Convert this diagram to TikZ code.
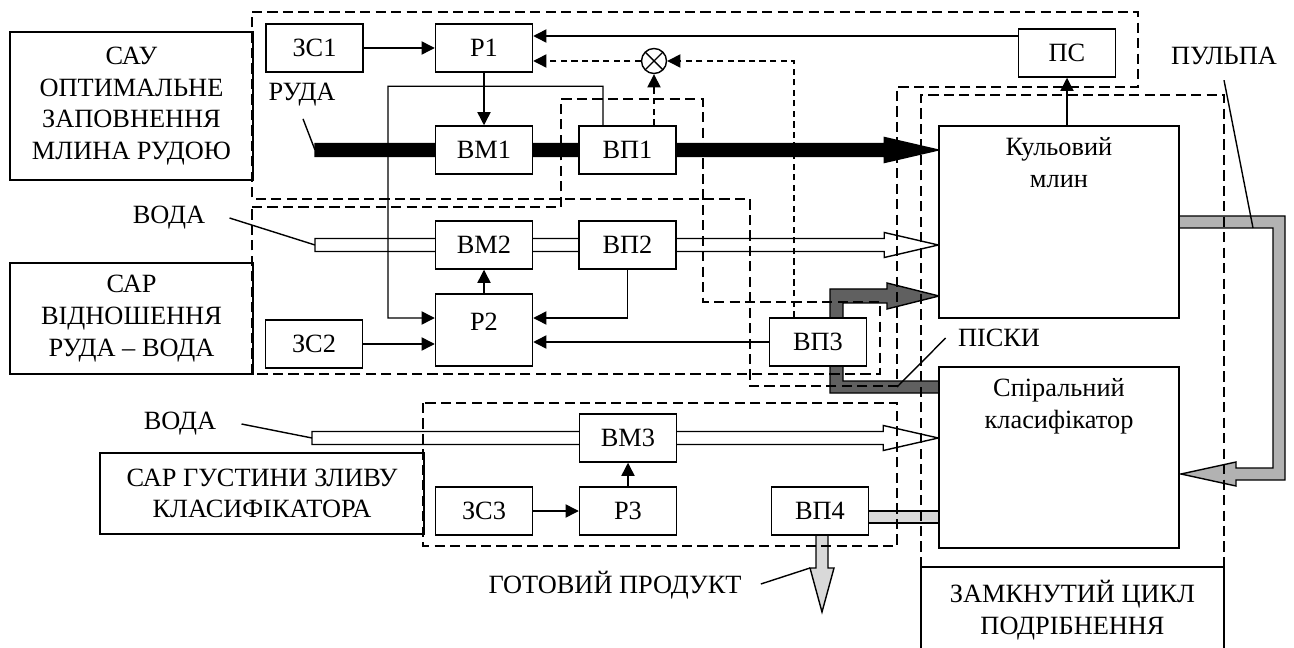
\documentclass[tikz,border=0pt]{standalone}
\usepackage{fontspec}
\setmainfont{Liberation Serif}
\usetikzlibrary{arrows.meta, calc, backgrounds}
\definecolor{sandgray}{RGB}{96, 96, 96}
\definecolor{pulpgray}{RGB}{178, 178, 178}
\definecolor{prodgray}{RGB}{217, 217, 217}

\tikzset{
  blk/.style={draw, fill=white, line width=0.85pt, minimum width=1.94cm, minimum height=0.96cm, inner sep=0pt},
  lab/.style={draw, fill=white, line width=0.85pt, align=center, inner sep=0pt},
  tag/.style={inner sep=0pt},
  grp/.style={line width=0.8pt, dash pattern=on 5.8pt off 3pt},
  fb/.style={line width=0.8pt, dash pattern=on 3.5pt off 2.5pt},
  sig/.style={line width=0.8pt, -{Triangle[length=7.5pt, width=7.5pt]}},
  pipe/.style={line width=0.8pt, line join=miter},
  mixer/.style={circle, draw, fill=white, line width=0.8pt, minimum size=0.5cm, inner sep=0pt,
    path picture={\draw[line width=0.8pt]
      (path picture bounding box.north west) -- (path picture bounding box.south east)
      (path picture bounding box.north east) -- (path picture bounding box.south west);}},
}

% straight flow to the right: style, start, tip, head length
\newcommand{\flowright}[4]{%
  \filldraw[pipe, #1] ($(#2)+(0,-6.5)$) -- ($(#3)+(-#4,-6.5)$) -- ($(#3)+(-#4,-12.5)$) -- (#3)
    -- ($(#3)+(-#4,12.5)$) -- ($(#3)+(-#4,6.5)$) -- ($(#2)+(0,6.5)$) -- cycle;}

\begin{document}
\begin{tikzpicture}[x=0.02cm, y=-0.02cm, font=\fontsize{15}{18}\selectfont]
  \useasboundingbox (0,0) rectangle (1294,648);

  % captions of the loops
  \node[lab, minimum width=4.86cm, minimum height=2.96cm] (sau) at (131.5,106) {САУ\\ОПТИМАЛЬНЕ\\ЗАПОВНЕННЯ\\МЛИНА РУДОЮ};
  \node[lab, minimum width=4.86cm, minimum height=2.22cm] (sarrv) at (131.5,318.5) {САР\\ВІДНОШЕННЯ\\РУДА – ВОДА};
  \node[lab, minimum width=6.48cm, minimum height=1.62cm] (sargz) at (262,493.5) {САР ГУСТИНИ ЗЛИВУ\\КЛАСИФІКАТОРА};
  \node[lab, minimum width=6.06cm, minimum height=1.72cm] (cyc) at (1072.5,610) {ЗАМКНУТИЙ ЦИКЛ\\ПОДРІБНЕННЯ};

  % blocks
  \node[blk] (zs1) at (314.5,48) {ЗС1};
  \node[blk] (r1) at (484,48) {Р1};
  \node[blk] (vm1) at (484,150) {ВМ1};
  \node[blk] (vp1) at (627.5,150) {ВП1};
  \node[blk] (ps) at (1067,53) {ПС};
  \node[mixer] (mix) at (654,61) {};

  \node[blk] (vm2) at (484,245) {ВМ2};
  \node[blk] (vp2) at (627.5,245) {ВП2};
  \node[blk, minimum height=1.44cm, text depth=0.32cm] (r2) at (484,330) {Р2};
  \node[blk] (zs2) at (314,344) {ЗС2};
  \node[blk] (vp3) at (818,342) {ВП3};

  \node[blk] (vm3) at (628,438) {ВМ3};
  \node[blk] (r3) at (628,511) {Р3};
  \node[blk] (zs3) at (484,511) {ЗС3};
  \node[blk] (vp4) at (820,511) {ВП4};

  \node[blk, minimum width=4.8cm, minimum height=3.84cm,
    label={[align=center, anchor=north, inner sep=0pt, yshift=-0.24cm]north:Кульовий\\млин}] (mill) at (1059,222) {};
  \node[blk, minimum width=4.8cm, minimum height=3.62cm,
    label={[align=center, anchor=north, inner sep=0pt, yshift=-0.24cm]north:Спіральний\\класифікатор}] (cls) at (1059,457.5) {};

  % flow labels
  \node[tag] (ruda) at (302,95) {РУДА};
  \node[tag] (voda1) at (169,218) {ВОДА};
  \node[tag] (voda2) at (180,424) {ВОДА};
  \node[tag] (piski) at (999,338) {ПІСКИ};
  \node[tag] (pulpa) at (1224,56) {ПУЛЬПА};
  \node[tag] (prod) at (615,585) {ГОТОВИЙ ПРОДУКТ};

  \coordinate (ore) at (315,150);
  \coordinate (w1) at (315,245);
  \coordinate (w2) at (312,438);
  \coordinate (oretip) at (mill.west |- ore);
  \coordinate (w1tip) at (mill.west |- w1);
  \coordinate (w2tip) at (cls.west |- w2);
  \coordinate (pk) at (897,387);
  \coordinate (pl) at (1253,228);
  \coordinate (pd) at (810,568);

  % material flows
  \begin{scope}[on background layer]
    \flowright{fill=black}{ore}{oretip}{54}
    \flowright{fill=white}{w1}{w1tip}{54}
    \flowright{fill=white}{w2}{w2tip}{55}
    \filldraw[pipe, fill=sandgray] (939,393) -- (830,393) -- (830,289) -- (887,289) -- (887,283)
      -- (939,296) -- (887,309) -- (887,303) -- (843,303) -- (843,381) -- (939,381) -- cycle;
    \filldraw[pipe, fill=pulpgray] (1179,216) -- (1285,216) -- (1285,480) -- (1236,480) -- (1236,486)
      -- (1181,474) -- (1236,462) -- (1236,468) -- (1273,468) -- (1273,228) -- (1179,228) -- cycle;
    \filldraw[pipe, fill=prodgray] (816,535) -- (816,568) -- (810,568) -- (822,612) -- (834,568)
      -- (828,568) -- (828,535) -- cycle;
    \filldraw[pipe, fill=prodgray] (868,511) rectangle (939,523);
  \end{scope}

  % loop borders
  \draw[grp] (252,12) -- (1138,12) -- (1138,87) -- (897,87) -- (897,386) -- (750,386) -- (750,199) -- (252,199) -- cycle;
  \draw[grp] (252,207) -- (561,207) -- (561,99) -- (703,99) -- (703,302) -- (880,302) -- (880,374) -- (252,374) -- cycle;
  \draw[grp] (423,403) rectangle (897,546);
  \draw[grp] (921,567) -- (921,95) -- (1224,95) -- (1224,567);

  % signals
  \draw[sig] (zs1) -- (r1);
  \draw[sig] ([yshift=0.34cm]ps.west) -- ([yshift=0.34cm]ps.west -| r1.east);
  \draw[sig] (r1) -- (vm1);
  \draw[sig] (ps.south |- mill.north) -- (ps);
  \draw[sig, fb] (mix.west) -- (mix.west -| r1.east);
  \draw[sig, fb] (mix.south |- vp1.north) -- (mix.south);
  \draw[sig, fb] ([xshift=-0.48cm]vp3.north) |- (mix.east);
  \draw[sig] ([xshift=-0.49cm]vp1.north) -- ++(0,-39) -| (388,318) -- ([yshift=0.24cm]r2.west);
  \draw[sig] (r2) -- (vm2);
  \draw[sig] (vp2.south) |- ([yshift=0.24cm]r2.east);
  \draw[sig] (vp3.west) -- (vp3.west -| r2.east);
  \draw[sig] (zs2) -- (zs2 -| r2.west);
  \draw[sig] (zs3) -- (r3);
  \draw[sig] (r3) -- (vm3);

  % pointers
  \draw[line width=0.8pt] (ruda.south) ++(1,12) -- (ore);
  \draw[line width=0.8pt] (voda1.east) ++(24,0) -- (w1);
  \draw[line width=0.8pt] (voda2.east) ++(25,0) -- (w2);
  \draw[line width=0.8pt] (piski.west) ++(-12,0) -- (pk);
  \draw[line width=0.8pt] (pulpa.south) ++(0,15) -- (pl);
  \draw[line width=0.8pt] (prod.east) ++(19,-1) -- (pd);
\end{tikzpicture}
\end{document}
